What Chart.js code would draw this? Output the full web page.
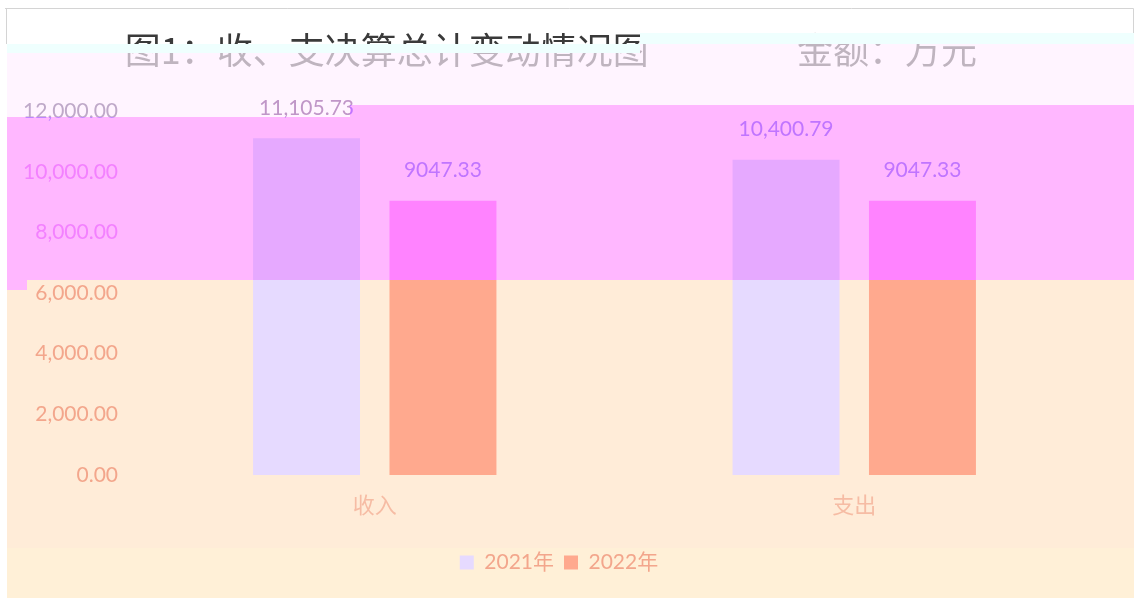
<!DOCTYPE html>
<html>
<head>
<meta charset="utf-8">
<script src="https://cdn.jsdelivr.net/npm/chart.js@4.4.0/dist/chart.umd.min.js"></script>
<style>
  html, body { margin: 0; padding: 0; background: #fff; }
  #wrap { width: 1134px; height: 598px; }
</style>
</head>
<body>
<div id="wrap"><canvas id="barChart" width="1134" height="598"></canvas></div>
<script>
// 데이터
const categories = ['收入', '支出'];
const seriesNames = ['2021年', '2022年'];
const values2021 = [11105.73, 10400.79];
const values2022 = [9047.33, 9047.33];
const yMin = 0;
const yMax = 12000;
const yStep = 2000;

const titleText = '图1：收、支决算总计变动情况图\u3000\u3000\u3000     金额：万元  ';

const colorLavender = '#e6daff';
const colorSalmon = '#ffa98e';
const tickColor = '#f3a68c';
const labelFont = 'Lato, "Noto Sans CJK SC", sans-serif';
const cjkFont = '"Noto Sans CJK SC", sans-serif';

function fmtComma(v) {
  return v.toLocaleString('en-US', { minimumFractionDigits: 2, maximumFractionDigits: 2 });
}
function fmtPlain(v) {
  return v.toFixed(2);
}
const labelFormats = [fmtComma, fmtPlain];

// 배경 + 글리치 영역
function polyPath(ctx, pts) {
  ctx.beginPath();
  ctx.moveTo(pts[0][0], pts[0][1]);
  for (let i = 1; i < pts.length; i++) ctx.lineTo(pts[i][0], pts[i][1]);
  ctx.closePath();
}
const W = 1134, H = 598;
const palePoly = [[7, 53], [640, 53], [640, 44], [W, 44], [W, 105], [350, 105], [350, 117], [7, 117]];
const titleZone = [[7, 53], [640, 53], [640, 44], [W, 44], [W, 85], [7, 85]];
const pinkPoly = [[7, 117], [350, 117], [350, 105], [W, 105], [W, 280], [27, 280], [27, 290], [7, 290]];

const backgroundPlugin = {
  id: 'bgGlitch',
  beforeDraw(chart) {
    const ctx = chart.ctx;
    ctx.save();
    ctx.fillStyle = '#ffffff';
    ctx.fillRect(0, 0, W, H);
    ctx.fillStyle = '#ffecd8';
    ctx.fillRect(7, 105, W - 7, 443);
    ctx.fillStyle = '#fff0d7';
    ctx.fillRect(7, 548, W - 7, 50);
    ctx.fillStyle = '#fff4ff';
    polyPath(ctx, palePoly);
    ctx.fill();
    ctx.fillStyle = '#ffffff';
    polyPath(ctx, titleZone);
    ctx.fill();
    ctx.strokeStyle = '#d4d4d4';
    ctx.lineWidth = 1;
    ctx.beginPath();
    ctx.moveTo(5, 8.5); ctx.lineTo(1133.5, 8.5); ctx.lineTo(1133.5, 33);
    ctx.moveTo(6.5, 8.5); ctx.lineTo(6.5, 44);
    ctx.stroke();
    ctx.restore();
  },
  afterDraw(chart) {
    const ctx = chart.ctx;
    ctx.save();
    // 제목 아래쪽 연하게
    polyPath(ctx, titleZone);
    ctx.fillStyle = 'rgba(255,239,255,0.68)';
    ctx.fill();
    // 핑크 띠
    ctx.save();
    polyPath(ctx, pinkPoly);
    ctx.clip();
    ctx.globalCompositeOperation = 'screen';
    ctx.fillStyle = 'rgb(0,0,255)';
    ctx.fillRect(0, 0, W, H);
    ctx.globalCompositeOperation = 'multiply';
    ctx.fillStyle = 'rgb(255,198,255)';
    ctx.fillRect(0, 0, W, H);
    ctx.restore();
    // 청록 줄
    ctx.fillStyle = '#effffe';
    ctx.fillRect(7, 44, 633, 9);
    ctx.fillRect(640, 33, W - 640, 11);
    ctx.restore();
  }
};

// 막대 위 값 표시
const valueLabelPlugin = {
  id: 'valueLabels',
  afterDatasetsDraw(chart) {
    const ctx = chart.ctx;
    ctx.save();
    ctx.font = '21px ' + labelFont;
    ctx.fillStyle = '#c096c8';
    ctx.textAlign = 'center';
    ctx.textBaseline = 'middle';
    chart.data.datasets.forEach((ds, di) => {
      const meta = chart.getDatasetMeta(di);
      meta.data.forEach((bar, i) => {
        ctx.fillText(labelFormats[di](ds.data[i]), bar.x, bar.y - 30);
      });
    });
    ctx.restore();
  }
};

const ctx = document.getElementById('barChart').getContext('2d');
const barChart = new Chart(ctx, {
  type: 'bar',
  data: {
    labels: categories,
    datasets: [
      { label: seriesNames[0], data: values2021, backgroundColor: colorLavender, borderWidth: 0 },
      { label: seriesNames[1], data: values2022, backgroundColor: colorSalmon, borderWidth: 0 }
    ]
  },
  options: {
    responsive: false,
    animation: false,
    categoryPercentage: 0.569,
    barPercentage: 0.784,
    layout: { padding: { left: 24, right: 40, top: 0, bottom: 15 } },
    plugins: {
      title: {
        display: true,
        text: titleText,
        color: '#3a3a3a',
        font: { family: cjkFont, size: 36, weight: 'normal' },
        padding: { top: 29, bottom: 39 }
      },
      legend: {
        display: true,
        position: 'bottom',
        labels: {
          boxWidth: 14,
          boxHeight: 14,
          padding: 10,
          color: tickColor,
          font: { family: labelFont, size: 21 }
        }
      },
      tooltip: { enabled: false }
    },
    scales: {
      x: {
        grid: { display: false, drawTicks: false },
        border: { display: false },
        ticks: {
          padding: 16,
          color: '#f6bca4',
          font: { family: cjkFont, size: 22 }
        },
        afterFit(scale) { scale.height = 67; }
      },
      y: {
        min: yMin,
        max: yMax,
        grid: { display: false, drawTicks: false },
        border: { display: false },
        ticks: {
          stepSize: yStep,
          padding: 17,
          color: c => (c.tick && c.tick.value === yMax) ? '#bfa9c9' : tickColor,
          font: { family: labelFont, size: 21 },
          callback: v => fmtComma(v)
        },
        afterFit(scale) { scale.width = 111; }
      }
    }
  },
  plugins: [backgroundPlugin, valueLabelPlugin]
});
</script>
</body>
</html>
